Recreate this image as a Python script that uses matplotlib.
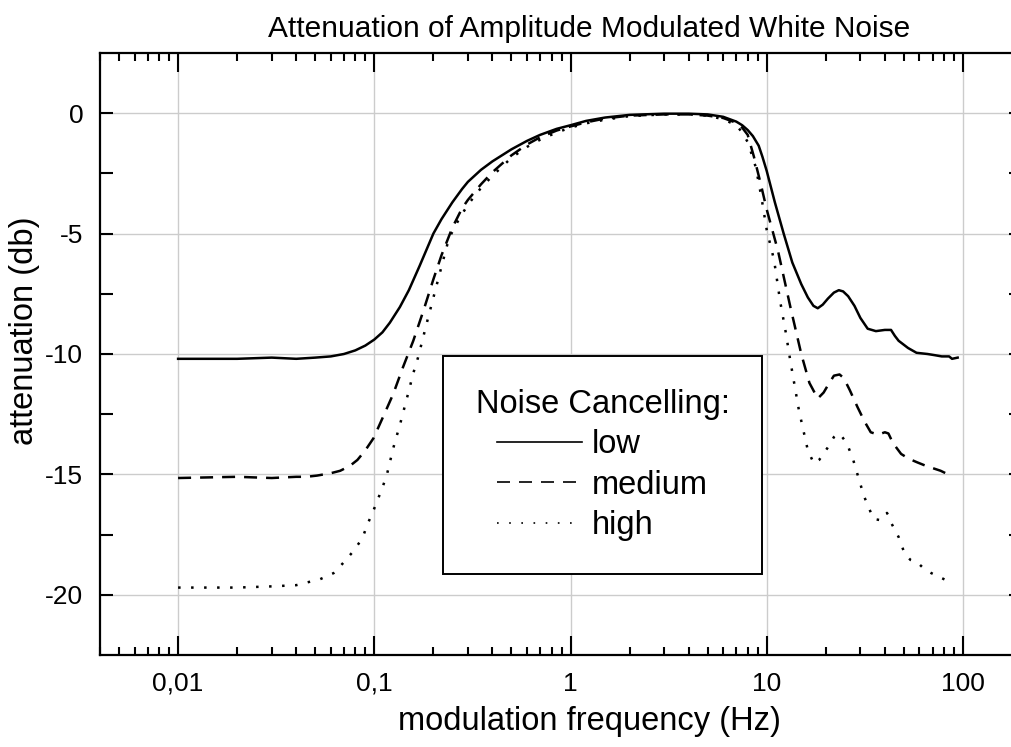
import numpy as np
import matplotlib
matplotlib.use("Agg")
import matplotlib.pyplot as plt
from matplotlib.ticker import LogLocator, NullFormatter

plt.rcParams['font.family'] = ['Liberation Sans', 'DejaVu Sans']

# values (frequency in Hz, attenuation in dB)
low_f = [0.01, 0.02, 0.03, 0.04, 0.05, 0.06, 0.07, 0.08, 0.09, 0.1, 0.11, 0.12,
         0.135, 0.15, 0.17, 0.2, 0.22, 0.25, 0.28, 0.3, 0.35, 0.4, 0.5, 0.6, 0.7,
         0.85, 1, 1.2, 1.5, 2, 3, 4, 5, 6, 7, 7.5, 8, 8.5, 9.1, 9.5, 10, 11, 12.2,
         13.5, 15, 16.2, 17.3, 18.2, 19.3, 20.5, 22, 23.3, 24.5, 26, 28, 30,
         32.7, 36, 40, 43, 45, 47, 52.5, 58, 66, 72, 78, 85, 88, 94]
low_db = [-10.2, -10.2, -10.15, -10.2, -10.15, -10.1, -10.0, -9.85, -9.65, -9.4,
          -9.1, -8.7, -8.05, -7.35, -6.35, -5.0, -4.4, -3.7, -3.15, -2.85, -2.35,
          -2.0, -1.5, -1.15, -0.9, -0.65, -0.5, -0.32, -0.18, -0.07, -0.02, -0.02,
          -0.05, -0.15, -0.35, -0.5, -0.7, -0.95, -1.35, -1.8, -2.4, -3.7, -5.0,
          -6.2, -7.1, -7.65, -8.0, -8.1, -7.95, -7.7, -7.45, -7.35, -7.4, -7.6,
          -8.0, -8.5, -8.95, -9.05, -9.0, -9.0, -9.25, -9.45, -9.75, -9.95, -10.0,
          -10.05, -10.1, -10.1, -10.2, -10.15]

med_f = [0.01, 0.02, 0.03, 0.04, 0.045, 0.051, 0.06, 0.067, 0.075, 0.082, 0.09,
         0.099, 0.111, 0.125, 0.14, 0.158, 0.178, 0.2, 0.22, 0.25, 0.28, 0.3,
         0.35, 0.4, 0.5, 0.6, 0.7, 0.85, 1, 1.2, 1.5, 2, 3, 4, 5, 6, 7, 7.5, 8,
         8.6, 9.3, 10, 11.4, 13.2, 15, 16.5, 18.2, 19.5, 20.5, 22, 23.5, 24.7,
         26.5, 29, 31.5, 33.9, 37, 40, 41.7, 44, 48.4, 53, 58.5, 65, 77, 84]
med_db = [-15.15, -15.1, -15.15, -15.1, -15.1, -15.05, -14.95, -14.85, -14.65,
          -14.4, -14.0, -13.5, -12.6, -11.65, -10.55, -9.45, -8.2, -6.9, -5.9,
          -4.75, -3.95, -3.6, -2.95, -2.45, -1.75, -1.3, -1.0, -0.72, -0.55,
          -0.38, -0.22, -0.1, -0.05, -0.05, -0.1, -0.2, -0.4, -0.6, -0.9, -1.8,
          -2.9, -4.0, -5.7, -8.05, -10.0, -11.2, -11.85, -11.6, -11.3, -10.9,
          -10.85, -11.0, -11.5, -12.2, -12.8, -13.25, -13.35, -13.25, -13.3,
          -13.7, -14.15, -14.35, -14.5, -14.65, -14.85, -15.0]

high_f = [0.01, 0.02, 0.03, 0.04, 0.053, 0.062, 0.069, 0.078, 0.087, 0.092,
          0.099, 0.11, 0.116, 0.125, 0.136, 0.147, 0.158, 0.167, 0.188, 0.21,
          0.24, 0.27, 0.3, 0.35, 0.4, 0.5, 0.6, 0.7, 0.85, 1, 1.2, 1.5, 2, 3, 4,
          5, 6, 7, 7.5, 8, 8.3, 8.8, 9.4, 10, 10.9, 11.7, 12.5, 13.2, 14.6, 16.2,
          17.4, 18.5, 20.4, 22, 23, 24, 25.6, 27.6, 29.5, 31.3, 35, 38, 39.6, 41,
          42, 43, 47, 50.5, 54, 58.5, 63, 69, 80, 88]
high_db = [-19.7, -19.7, -19.65, -19.6, -19.35, -19.1, -18.7, -18.2, -17.65,
           -17.1, -16.5, -15.55, -15.0, -13.9, -12.85, -11.8, -10.8, -10.15,
           -8.5, -7.0, -5.2, -4.4, -3.8, -3.1, -2.6, -1.85, -1.4, -1.1, -0.8,
           -0.6, -0.42, -0.27, -0.12, -0.05, -0.05, -0.1, -0.25, -0.5, -0.8,
           -1.2, -1.6, -2.25, -3.5, -4.85, -6.1, -7.8, -9.1, -10.3, -12.35,
           -14.0, -14.55, -14.4, -13.9, -13.45, -13.3, -13.4, -13.7, -14.4,
           -15.2, -15.9, -16.85, -16.9, -16.8, -16.6, -16.75, -17.0, -17.6,
           -18.3, -18.55, -18.65, -18.9, -19.1, -19.35, -19.5]

xticks = [0.01, 0.1, 1, 10, 100]
xtick_labels = ["0,01", "0,1", "1", "10", "100"]
yticks = [0, -5, -10, -15, -20]
ytick_labels = ["0", "-5", "-10", "-15", "-20"]
yticks_minor = [-2.5, -7.5, -12.5, -17.5]

W, H = 1011, 747
fig = plt.figure(figsize=(W / 100, H / 100), dpi=100)
# right spine sits just past the picture edge, like in the original
ax = fig.add_axes([100 / W, 1 - 655 / H, 922 / W, 602 / H])

ax.plot(low_f, low_db, color='black', lw=1.8, ls='-', label='low')
ax.plot(med_f, med_db, color='black', lw=1.8, ls=(0, (5.2, 3.6)), label='medium')
ax.plot(high_f, high_db, color='black', lw=1.8, ls=(0, (1, 4.2)), label='high')

ax.set_xscale('log')
ax.set_xlim(10 ** -2.398, 10 ** 2.301)
ax.set_ylim(-22.5, 2.5)
ax.set_xticks(xticks, xtick_labels)
ax.set_yticks(yticks, ytick_labels)
ax.set_yticks(yticks_minor, minor=True)
ax.xaxis.set_minor_locator(LogLocator(base=10, subs=np.arange(2, 10)))
ax.xaxis.set_minor_formatter(NullFormatter())

ax.tick_params(which='both', direction='in', top=True, right=True, width=1.5,
               labelsize=19)
ax.tick_params(axis='x', which='major', length=14, pad=12)
ax.tick_params(axis='x', which='minor', length=6)
ax.tick_params(axis='y', which='both', length=9.5, pad=12)
for s in ax.spines.values():
    s.set_linewidth(1.6)

ax.grid(True, which='major', color='#cccccc', lw=1)
ax.set_axisbelow(True)

fig.text(589 / W, 1 - 37 / H, "Attenuation of Amplitude Modulated White Noise",
         fontsize=21.5, ha='center', va='baseline')
ax.set_xlabel("modulation frequency (Hz)", fontsize=23.5)
ax.xaxis.set_label_coords((589 - 100) / 922, -(706 - 655) / 602)
ax.set_ylabel("attenuation (db)", fontsize=23.5)
ax.yaxis.set_label_coords(-(100 - 40) / 922, (655 - 331) / 602)

leg = ax.legend(title="Noise Cancelling:", loc='upper left',
                bbox_to_anchor=((443 - 100) / 922, (655 - 356) / 602),
                fontsize=23.5, title_fontsize=23.5, fancybox=False, framealpha=1,
                edgecolor='black', handlelength=2.6, borderpad=1.0,
                labelspacing=0.29, handletextpad=0.3, borderaxespad=0)
leg.get_frame().set_linewidth(1.4)
hl = leg.get_lines()
hl[0].set_linewidth(1.2)
hl[1].set_linewidth(1.2)
hl[1].set_linestyle((0, (7.8, 5.4)))
hl[2].set_linewidth(1.2)
hl[2].set_linestyle((0, (1, 6.3)))

fig.savefig("out.png", dpi=100)
